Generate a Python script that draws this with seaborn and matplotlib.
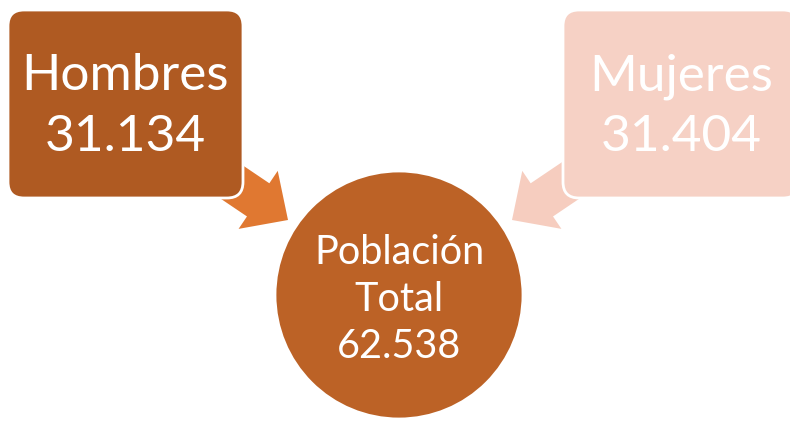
import matplotlib
matplotlib.use("Agg")
from matplotlib import pyplot
from matplotlib.patches import FancyBboxPatch, Circle, FancyArrow
import seaborn

# datos
grupos = ["Hombres", "Mujeres"]
poblacion = [31134, 31404]
etiqueta_total = ["Población", "Total"]

colores_caja = seaborn.color_palette(["#AF5A22", "#F6D1C5"])
colores_flecha = seaborn.color_palette(["#E07831", "#F6CDBF"])
color_circulo = "#BC6226"


def miles(v):
    return f"{v:,}".replace(",", ".")


seaborn.set_theme(style="white")
pyplot.rcParams["font.family"] = ["Lato", "DejaVu Sans"]

fig = pyplot.figure(figsize=(7.9, 4.21), dpi=100)
ax = fig.add_axes([0, 0, 1, 1])
ax.set_xlim(0, 790)
ax.set_ylim(421, 0)
ax.axis("off")

# cajas (x izquierda, ancho) y flechas (inicio, punta)
cajas = [(8, 235), (563, 236)]
flechas = [((205, 164), (288, 220)), ((595, 164), (512, 220))]

for i, grupo in enumerate(grupos):
    (x0, y0), (x1, y1) = flechas[i]
    ax.add_patch(
        FancyArrow(
            x0, y0, x1 - x0, y1 - y0,
            width=40, head_width=70, head_length=36,
            length_includes_head=True,
            color=colores_flecha[i], linewidth=0, zorder=1,
        )
    )
    bx, bw = cajas[i]
    ax.add_patch(
        FancyBboxPatch(
            (bx, 10), bw, 188,
            boxstyle="round,pad=0,rounding_size=16",
            facecolor=colores_caja[i], edgecolor="white", linewidth=2, zorder=2,
        )
    )
    cx = bx + bw / 2
    ax.text(cx, 90, grupo, color="white", fontsize=37, ha="center", va="baseline", zorder=3)
    ax.text(cx, 151, miles(poblacion[i]), color="white", fontsize=37, ha="center", va="baseline", zorder=3)

ax.add_patch(Circle((399, 295), 124, facecolor=color_circulo, edgecolor="white", linewidth=2, zorder=2))
lineas = etiqueta_total + [miles(sum(poblacion))]
for j, linea in enumerate(lineas):
    ax.text(399, 264 + j * 47, linea, color="white", fontsize=28.5, ha="center", va="baseline", zorder=3)

fig.savefig("out.png", dpi=100)
